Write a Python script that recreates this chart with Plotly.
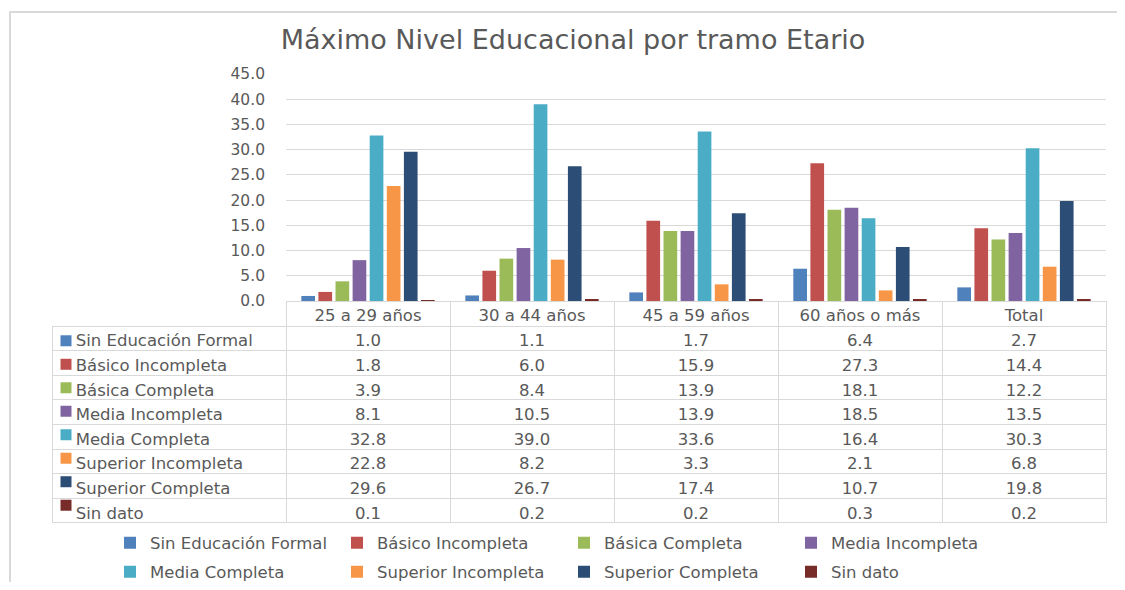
import plotly.graph_objects as go

# page body adds an 8px margin; size the figure so it fits the 1125x590 window
FW, FH = 1109, 574

categories = ["25 a 29 años", "30 a 44 años", "45 a 59 años", "60 años o más", "Total"]
series_names = [
    "Sin Educación Formal", "Básico Incompleta", "Básica Completa", "Media Incompleta",
    "Media Completa", "Superior Incompleta", "Superior Completa", "Sin dato",
]
sin_educacion = [1.0, 1.1, 1.7, 6.4, 2.7]
basico_incompleta = [1.8, 6.0, 15.9, 27.3, 14.4]
basica_completa = [3.9, 8.4, 13.9, 18.1, 12.2]
media_incompleta = [8.1, 10.5, 13.9, 18.5, 13.5]
media_completa = [32.8, 39.0, 33.6, 16.4, 30.3]
superior_incompleta = [22.8, 8.2, 3.3, 2.1, 6.8]
superior_completa = [29.6, 26.7, 17.4, 10.7, 19.8]
sin_dato = [0.1, 0.2, 0.2, 0.3, 0.2]

series_values = [sin_educacion, basico_incompleta, basica_completa, media_incompleta,
                 media_completa, superior_incompleta, superior_completa, sin_dato]
colors = ["#4F81BD", "#C0504D", "#9BBB59", "#8064A2",
          "#4BACC6", "#F79646", "#2C4D75", "#772C2A"]

FONT = "DejaVu Sans"
TXT = "#595959"
GRID = "#d9d9d9"
TSIZE = 16.5
CLEAR = "rgba(0,0,0,0)"


def fx(p):
    # window pixel -> paper fraction
    return (p - 8) / FW


def fy(p):
    return 1 - (p - 8) / FH


fig = go.Figure()

for i, (name, vals, col) in enumerate(zip(series_names, series_values, colors)):
    fig.add_trace(go.Bar(
        x=categories, y=vals, name=name,
        marker=dict(color=col, line=dict(width=0)),
        legend="legend" if i < 4 else "legend2",
        hoverinfo="name+y",
    ))

# colour keys in the first table column (drawn under the transparent table)
fig.add_trace(go.Scatter(
    x=["key"] * len(series_names), y=series_names,
    mode="markers", xaxis="x2", yaxis="y2",
    marker=dict(symbol="square", size=11, color=colors),
    showlegend=False, hoverinfo="skip",
))

# data table under the chart
nb = "\u00a0"
first_col = [nb * 3 + n for n in series_names]
value_cols = [[f"{vals[j]:.1f}" for vals in series_values] for j in range(len(categories))]

fig.add_trace(go.Table(
    domain=dict(x=[fx(52), fx(1106)], y=[fy(524), fy(301)]),
    columnwidth=[234, 164, 164, 164, 164, 164],
    header=dict(
        values=[""] + categories,
        fill_color=CLEAR,
        line=dict(color=[CLEAR] + [GRID] * 5, width=1),
        align="center",
        font=dict(family=FONT, size=TSIZE, color=TXT),
        height=25,
    ),
    cells=dict(
        values=[first_col] + value_cols,
        fill_color=CLEAR,
        line=dict(color=GRID, width=1),
        align=["left"] + ["center"] * 5,
        font=dict(family=FONT, size=TSIZE, color=TXT),
        height=24.6,
    ),
))

fig.update_layout(
    width=FW, height=FH, autosize=False,
    margin=dict(l=0, r=0, t=0, b=0, autoexpand=False),
    paper_bgcolor="white", plot_bgcolor="white",
    font=dict(family=FONT, color=TXT),
    title=dict(
        text="Máximo Nivel Educacional por tramo Etario",
        x=fx(573), xanchor="center", y=fy(40), yanchor="middle",
        font=dict(family=FONT, size=27, color=TXT),
    ),
    barmode="group", bargap=0.166, bargroupgap=0.2,
    xaxis=dict(domain=[fx(286), fx(1106)], showticklabels=False, showgrid=False,
               showline=False, zeroline=False),
    yaxis=dict(domain=[fy(301), fy(74)], range=[0, 45], dtick=5, tickformat=".1f",
               showgrid=True, gridcolor=GRID, gridwidth=1, zeroline=False, showline=False,
               ticks="", ticklabelstandoff=20,
               tickfont=dict(family=FONT, size=15.5, color=TXT)),
    xaxis2=dict(domain=[fx(57), fx(75)], visible=False, anchor="y2"),
    yaxis2=dict(domain=[fy(522), fy(324)], visible=False, anchor="x2",
                type="category", categoryarray=series_names, autorange="reversed"),
    legend=dict(orientation="h", x=fx(110), y=fy(543), xanchor="left", yanchor="middle",
                entrywidth=182, entrywidthmode="pixels",
                font=dict(family=FONT, size=TSIZE, color=TXT), bgcolor=CLEAR),
    legend2=dict(orientation="h", x=fx(110), y=fy(572), xanchor="left", yanchor="middle",
                 entrywidth=182, entrywidthmode="pixels",
                 font=dict(family=FONT, size=TSIZE, color=TXT), bgcolor=CLEAR),
    shapes=[dict(type="rect", xref="paper", yref="paper",
                 x0=fx(10), x1=fx(1160), y0=fy(640), y1=fy(12),
                 line=dict(color="#d9d9d9", width=2), fillcolor=CLEAR, layer="below")],
)

fig.write_html("out.html")
